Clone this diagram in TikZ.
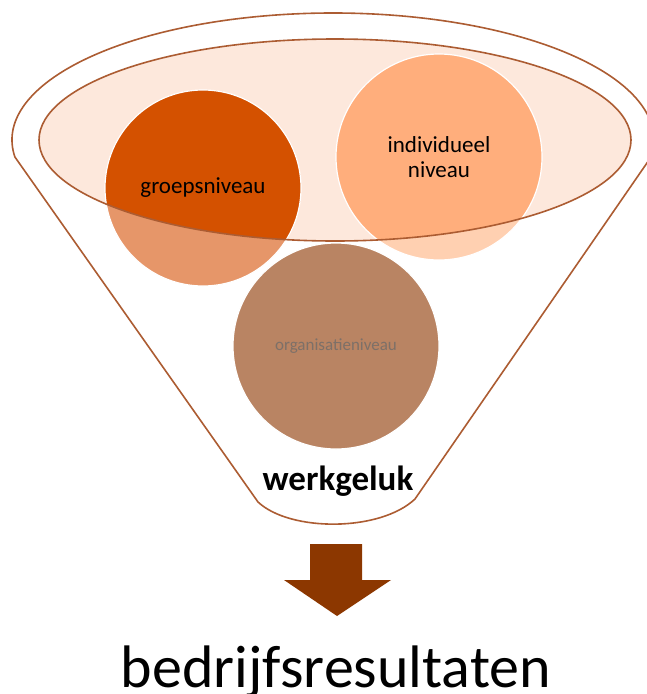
\documentclass[tikz,border=0pt]{standalone}
\usepackage{fontspec}
\setmainfont{Carlito}
\usetikzlibrary{shapes.geometric,positioning}

\definecolor{rimbrown}{RGB}{172,92,50}
\definecolor{bowlpeach}{RGB}{253,232,220}
\definecolor{groepdark}{RGB}{212,81,0}
\definecolor{groeplight}{RGB}{230,150,105}
\definecolor{indivdark}{RGB}{255,174,124}
\definecolor{indivlight}{RGB}{255,208,177}
\definecolor{orgbrown}{RGB}{185,132,99}
\definecolor{orgtext}{RGB}{125,112,104}
\definecolor{arrowbrown}{RGB}{140,55,0}

\begin{document}
\begin{tikzpicture}[
  x=1pt, y=1pt,
  rim/.style={draw=rimbrown, line width=1.6pt},
  level/.style={circle, draw=white, line width=1.2pt, inner sep=0pt, align=center, minimum size=200pt},
  inbowl/.style={path picture={\fill[#1] (bowl.center) ellipse[x radius=296pt, y radius=101pt];}},
  label/.style={font=\fontsize{23}{25}\selectfont, text=black},
]
\useasboundingbox (0,0) rectangle (647,-694);

% === Funnel outline ===
\draw[rim, fill=white] (14.9,-157)
  arc[start angle=187.7, end angle=-7.7, x radius=321, y radius=127]
  -- (415,-499) .. controls (380,-532) and (290,-532) .. (258,-502) -- cycle;

% === Bowl (inner ellipse) ===
\node[ellipse, fill=bowlpeach, inner sep=0pt, minimum width=592pt, minimum height=202pt] (bowl) at (335,-140) {};

% === Levels ===
\node[level, minimum size=196pt, fill=groeplight, inbowl=groepdark, label] (groep) at (203,-188) {groepsniveau};
\node[level, minimum size=206pt, fill=indivlight, inbowl=indivdark, label] (indiv) at (439,-157) {individueel\\niveau};
\node[level, minimum size=206pt, fill=orgbrown, text=orgtext, font=\fontsize{17}{19}\selectfont] (org) at (336,-346) {organisatieniveau};

\draw[rim] (bowl.center) ellipse[x radius=296pt, y radius=101pt];

% === Outcome ===
\node[font=\fontsize{35}{40}\selectfont\bfseries, anchor=base] (geluk) at (338,-490) {werkgeluk};

\fill[arrowbrown] (310,-544) -- (362,-544) -- (362,-580) -- (391,-580) -- (337,-616)
  -- (284,-580) -- (310,-580) -- cycle;

\node[font=\fontsize{60}{66}\selectfont, anchor=base] (result) at (336,-687) {bedrijfsresultaten};

\end{tikzpicture}
\end{document}
